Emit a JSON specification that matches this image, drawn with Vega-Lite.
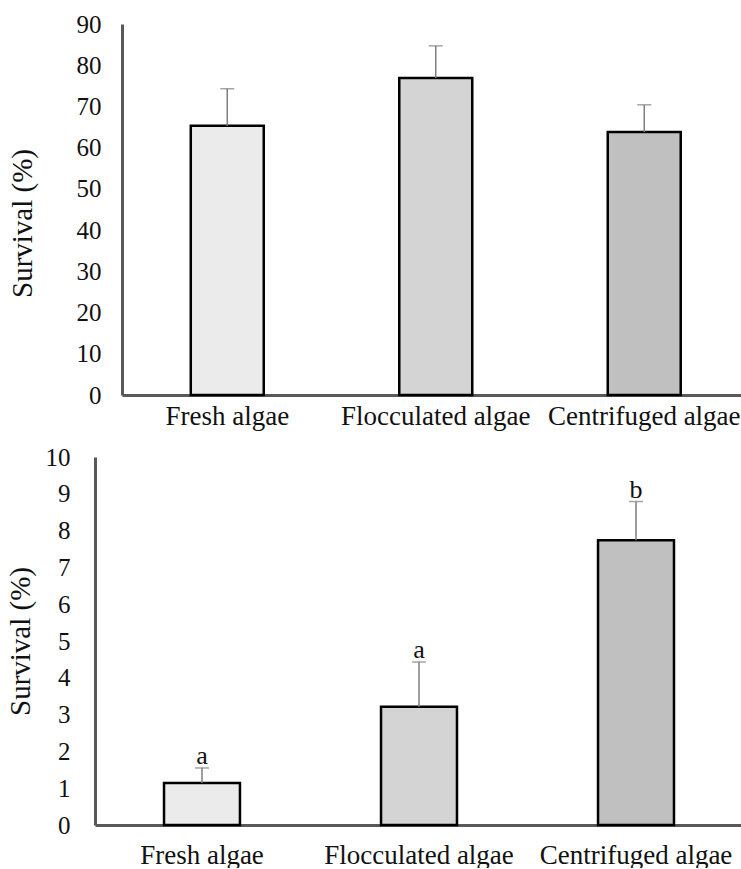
{
  "$schema": "https://vega.github.io/schema/vega-lite/v6.json",
  "padding": {"left": 6, "top": 12, "right": 0, "bottom": 0},
  "spacing": 16,
  "columns": 1,
  "align": "none",
  "config": {
    "view": {"stroke": null},
    "font": "Liberation Serif",
    "axis": {
      "domainColor": "#595959",
      "domainWidth": 3,
      "ticks": false,
      "tickSize": 0,
      "grid": false,
      "labelFont": "Liberation Serif",
      "labelColor": "#111111",
      "labelFontSize": 25,
      "labelLimit": 0,
      "titleFont": "Liberation Serif",
      "titleFontSize": 29,
      "titleFontWeight": "normal",
      "titleColor": "#111111"
    }
  },
  "concat": [
    {
      "width": 648,
      "height": 371,
      "data": {"values": [
        {"treatment": "Fresh algae", "survival": 65.3, "upper": 74.3},
        {"treatment": "Flocculated algae", "survival": 76.9, "upper": 84.7},
        {"treatment": "Centrifuged algae", "survival": 63.8, "upper": 70.4}
      ]},
      "encoding": {
        "x": {"field": "treatment", "type": "nominal", "sort": null,
          "scale": {"paddingInner": 0.65, "paddingOuter": 0.379, "align": 0.606},
          "axis": {"labelAngle": 0, "title": null, "labelPadding": 8, "labelFont": "Liberation Serif", "labelFontSize": 27, "labelLimit": 0,
            "domainDash": [621, 27], "domainDashOffset": 621}},
        "y": {"field": "survival", "type": "quantitative",
          "scale": {"domain": [0, 90], "nice": false},
          "axis": {"values": [0, 10, 20, 30, 40, 50, 60, 70, 80, 90], "title": "Survival (%)", "labelPadding": 21, "titlePadding": 39, "offset": -27, "titleY": 199,
            "labelFont": "Liberation Serif", "titleFont": "Liberation Serif", "labelFontSize": 25, "titleFontSize": 29}}
      },
      "layer": [
        {"mark": {"type": "bar", "stroke": "#000000", "strokeWidth": 2.5},
          "encoding": {
            "fill": {"field": "treatment", "type": "nominal", "sort": null,
            "scale": {"domain": ["Fresh algae", "Flocculated algae", "Centrifuged algae"], "range": ["#ebebeb", "#d4d4d4", "#c0c0c0"]},
            "legend": null}}},
        {"mark": {"type": "rule", "color": "#7f7f7f", "strokeWidth": 1.5},
          "encoding": {"y2": {"field": "upper"}}},
        {"mark": {"type": "tick", "color": "#7f7f7f", "thickness": 1.5, "size": 14},
          "encoding": {"y": {"field": "upper", "type": "quantitative",
            "axis": {"values": [0, 10, 20, 30, 40, 50, 60, 70, 80, 90], "title": "Survival (%)", "labelPadding": 21, "titlePadding": 39, "offset": -27, "titleY": 199,
            "labelFont": "Liberation Serif", "titleFont": "Liberation Serif", "labelFontSize": 25, "titleFontSize": 29}}}}
      ]
    },
    {
      "width": 648,
      "height": 368,
      "data": {"values": [
        {"treatment": "Fresh algae", "survival": 1.14, "upper": 1.55, "group": "a"},
        {"treatment": "Flocculated algae", "survival": 3.21, "upper": 4.43, "group": "a"},
        {"treatment": "Centrifuged algae", "survival": 7.74, "upper": 8.79, "group": "b"}
      ]},
      "encoding": {
        "x": {"field": "treatment", "type": "nominal", "sort": null,
          "scale": {"paddingInner": 0.65, "paddingOuter": 0.318, "align": 0.5},
          "axis": {"labelAngle": 0, "title": null, "labelPadding": 17, "labelFont": "Liberation Serif", "labelFontSize": 27, "labelLimit": 0}},
        "y": {"field": "survival", "type": "quantitative",
          "scale": {"domain": [0, 10], "nice": false},
          "axis": {"values": [0, 1, 2, 3, 4, 5, 6, 7, 8, 9, 10], "title": "Survival (%)", "labelPadding": 25, "titlePadding": 10,
            "labelFont": "Liberation Serif", "titleFont": "Liberation Serif", "labelFontSize": 25, "titleFontSize": 29}}
      },
      "layer": [
        {"mark": {"type": "bar", "stroke": "#000000", "strokeWidth": 2.5},
          "encoding": {
            "fill": {"field": "treatment", "type": "nominal", "sort": null,
            "scale": {"domain": ["Fresh algae", "Flocculated algae", "Centrifuged algae"], "range": ["#ebebeb", "#d4d4d4", "#c0c0c0"]},
            "legend": null}}},
        {"mark": {"type": "rule", "color": "#7f7f7f", "strokeWidth": 1.5},
          "encoding": {"y2": {"field": "upper"}}},
        {"mark": {"type": "tick", "color": "#7f7f7f", "thickness": 1.5, "size": 14},
          "encoding": {"y": {"field": "upper", "type": "quantitative",
            "axis": {"values": [0, 1, 2, 3, 4, 5, 6, 7, 8, 9, 10], "title": "Survival (%)", "labelPadding": 25, "titlePadding": 10,
            "labelFont": "Liberation Serif", "titleFont": "Liberation Serif", "labelFontSize": 25, "titleFontSize": 29}}}},
        {"mark": {"type": "text", "font": "Liberation Serif", "fontSize": 26, "color": "#111111", "baseline": "alphabetic", "dy": -4},
          "encoding": {"y": {"field": "upper", "type": "quantitative",
            "axis": {"values": [0, 1, 2, 3, 4, 5, 6, 7, 8, 9, 10], "title": "Survival (%)", "labelPadding": 25, "titlePadding": 10,
            "labelFont": "Liberation Serif", "titleFont": "Liberation Serif", "labelFontSize": 25, "titleFontSize": 29}},
            "text": {"field": "group"}}}
      ]
    }
  ]
}
